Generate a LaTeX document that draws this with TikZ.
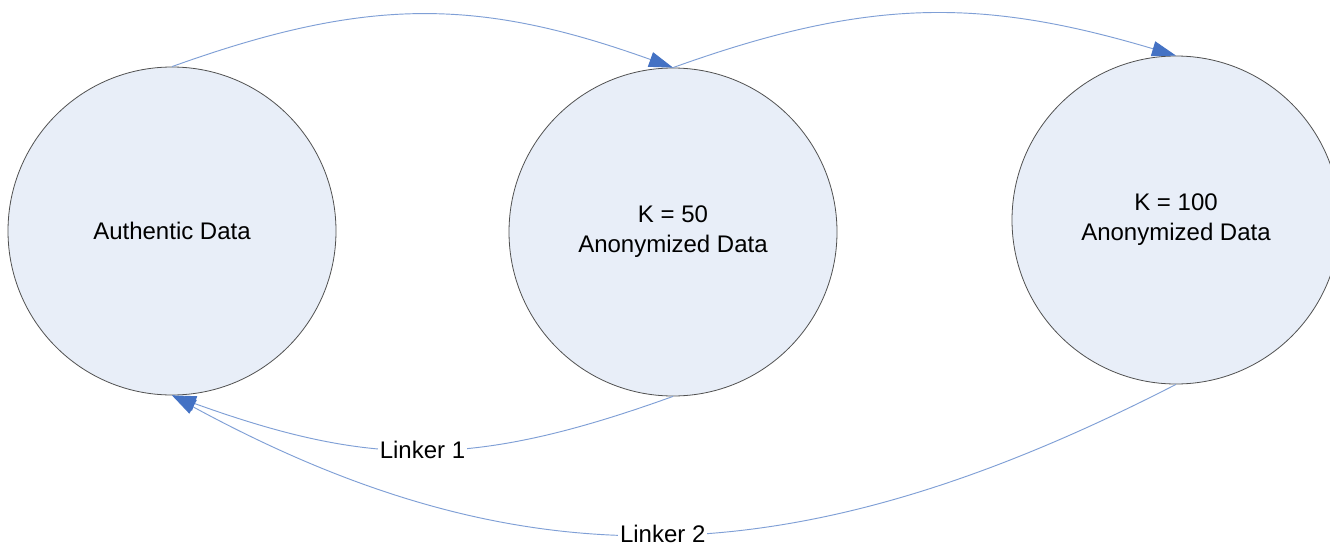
\documentclass[tikz,border=0pt]{standalone}
\usepackage{fontspec}
\setmainfont{Liberation Sans}
\usetikzlibrary{arrows.meta}
\definecolor{circfill}{HTML}{E8EEF8}
\definecolor{circline}{HTML}{505050}
\definecolor{linkline}{HTML}{7F9FD6}
\definecolor{tipblue}{HTML}{4472C4}
\tikzset{
  state/.style={circle, draw=circline, line width=0.6pt, fill=circfill, minimum size=246pt, inner sep=0pt, align=center, font=\fontsize{18}{22.5}\selectfont},
  link/.style={draw=linkline, line width=0.7pt, -{Triangle[length=18pt,width=11.5pt,color=tipblue]}},
  lab/.style={fill=white, inner sep=1.5pt, font=\fontsize{18}{21.5}\selectfont}
}
\begin{document}
\begin{tikzpicture}[x=0.75pt,y=-0.75pt]
\useasboundingbox (0,0) rectangle (1330,546);
\clip (0,0) rectangle (1330,546);
\fill[white] (0,0) rectangle (1330,546);
\node[state] (auth) at (172,231) {Authentic Data};
\node[state] (k50) at (673,232) {K = 50\\Anonymized Data};
\node[state] (k100) at (1176,220) {K = 100\\Anonymized Data};
\draw[link] (auth.north) .. controls +(195,-70) and +(-195,-70) .. (k50.north);
\draw[link] (k50.north) .. controls +(195,-70) and +(-195,-58) .. (k100.north);
\draw[link] (k50.south) .. controls +(-200,72) and +(200,72) .. node[lab] (l1) {Linker 1} (auth.south);
\draw[link] (k100.south) .. controls +(-380,195) and +(350,190) .. node[lab] (l2) {Linker 2} (auth.south);
\end{tikzpicture}
\end{document}
